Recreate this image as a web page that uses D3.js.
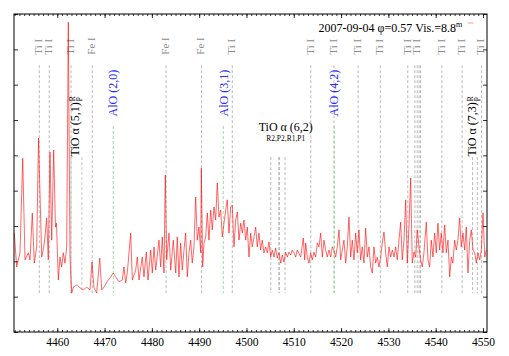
<!DOCTYPE html>
<html>
<head>
<meta charset="utf-8">
<script src="https://cdn.jsdelivr.net/npm/d3@7"></script>
<style>
  body { margin: 0; background: #fff; }
  svg { display: block; font-family: "Liberation Serif", "Times New Roman", serif; }
</style>
</head>
<body>
<svg id="chart" width="509" height="356"></svg>
<script>
// Spectrum (wavelength in Angstrom, relative flux)
const wave = [
  4450.91, 4451.42, 4452.12, 4452.69, 4453.18, 4453.87, 4454.23, 4454.72, 4455.14, 4455.65,
  4456.03, 4456.71, 4457.04, 4457.40, 4457.76, 4458.10, 4458.46, 4458.82, 4459.24, 4459.62,
  4459.83, 4460.22, 4460.57, 4460.93, 4461.27, 4461.63, 4461.99, 4462.33, 4462.69, 4463.05,
  4463.39, 4464.10, 4464.80, 4465.50, 4466.22, 4466.92, 4467.34, 4467.76, 4468.33, 4468.97,
  4469.39, 4469.88, 4470.51, 4471.29, 4471.84, 4472.35, 4473.05, 4473.74, 4474.10, 4474.46,
  4474.80, 4475.52, 4475.86, 4476.58, 4476.92, 4477.28, 4477.97, 4478.33, 4478.82, 4479.18,
  4479.75, 4480.09, 4480.45, 4480.81, 4481.50, 4481.86, 4482.20, 4482.56, 4482.84, 4483.13,
  4483.62, 4483.98, 4484.53, 4485.04, 4485.37, 4485.73, 4486.09, 4486.43, 4486.79, 4487.15,
  4487.49, 4487.85, 4488.20, 4488.54, 4488.90, 4489.26, 4489.60, 4489.96, 4490.32, 4490.45,
  4490.74, 4491.02, 4491.38, 4491.72, 4492.07, 4492.43, 4492.77, 4493.13, 4493.49, 4493.83,
  4494.19, 4494.55, 4494.89, 4495.24, 4495.60, 4495.94, 4496.30, 4496.66, 4497.00, 4497.36,
  4497.72, 4498.06, 4498.42, 4498.78, 4499.12, 4499.47, 4499.83, 4500.17, 4500.53, 4500.89,
  4501.23, 4501.59, 4501.95, 4502.29, 4502.64, 4503.00, 4503.34, 4503.70, 4504.06, 4504.40,
  4504.76, 4505.12, 4505.46, 4505.82, 4506.17, 4506.51, 4506.87, 4507.23, 4507.57, 4507.93,
  4508.29, 4508.63, 4508.99, 4509.35, 4509.69, 4510.04, 4510.40, 4510.74, 4511.46, 4512.01,
  4512.31, 4512.52, 4512.86, 4513.21, 4513.57, 4513.91, 4514.27, 4514.63, 4514.97, 4515.33,
  4515.69, 4516.03, 4516.38, 4516.74, 4517.08, 4517.44, 4517.80, 4518.14, 4518.50, 4518.86,
  4519.20, 4519.56, 4519.92, 4520.26, 4520.61, 4520.97, 4521.31, 4521.67, 4522.03, 4522.37,
  4522.73, 4523.09, 4523.43, 4523.78, 4524.14, 4524.48, 4524.84, 4525.20, 4525.54, 4525.90,
  4526.26, 4526.60, 4526.95, 4527.31, 4527.65, 4528.01, 4528.37, 4528.71, 4529.07, 4529.43,
  4529.77, 4530.13, 4530.49, 4530.83, 4531.18, 4531.54, 4531.88, 4532.24, 4532.60, 4532.94,
  4533.30, 4533.66, 4534.00, 4534.35, 4534.71, 4535.05, 4535.41, 4535.77, 4536.11, 4536.47,
  4536.83, 4537.17, 4537.52, 4538.01, 4538.37, 4538.73, 4539.07, 4539.43, 4539.79, 4540.13,
  4540.48, 4540.84, 4541.18, 4541.54, 4541.90, 4542.24, 4542.60, 4542.96, 4543.30, 4543.65,
  4544.01, 4544.35, 4544.71, 4545.07, 4545.41, 4545.77, 4546.13, 4546.47, 4546.83, 4547.19,
  4547.53, 4547.89, 4548.25, 4548.59, 4548.95, 4549.31, 4549.65, 4550.01, 4550.37, 4550.69
];
const flux = [
  2.80, 1.84, 2.24, 4.92, 2.04, 2.24, 2.04, 3.37, 1.95, 2.41,
  5.49, 2.12, 2.32, 2.69, 3.23, 2.04, 5.09, 2.60, 5.15, 2.97,
  3.08, 1.47, 2.12, 1.84, 2.24, 1.95, 2.41, 8.77, 2.12, 1.10,
  1.27, 1.33, 1.25, 1.19, 1.27, 1.19, 1.98, 1.25, 1.10, 2.09,
  1.19, 1.27, 1.42, 1.56, 1.67, 1.56, 1.42, 1.47, 1.84, 1.39,
  1.67, 2.80, 1.47, 1.75, 2.12, 1.47, 2.12, 1.56, 2.26, 1.47,
  2.32, 1.67, 2.41, 1.75, 2.60, 1.84, 2.69, 1.67, 4.44, 2.04,
  2.80, 1.75, 2.60, 1.67, 2.69, 1.56, 2.52, 1.75, 2.32, 2.80,
  1.56, 2.24, 2.60, 1.95, 2.41, 3.82, 2.60, 2.97, 2.24, 4.64,
  1.84, 2.52, 2.69, 3.37, 2.60, 3.45, 2.89, 3.54, 3.17, 4.22,
  3.25, 3.45, 2.69, 3.08, 3.45, 3.74, 2.80, 3.54, 3.59, 2.41,
  3.17, 3.40, 2.60, 3.08, 2.80, 3.17, 2.60, 2.97, 2.12, 2.80,
  2.41, 2.69, 2.97, 2.41, 2.80, 2.32, 2.60, 2.24, 2.41, 2.24,
  2.55, 2.12, 2.32, 2.12, 2.38, 2.09, 2.24, 1.95, 2.18, 1.98,
  2.26, 2.12, 2.26, 2.18, 2.32, 2.24, 2.12, 2.32, 2.12, 2.66,
  2.04, 2.52, 2.12, 1.95, 2.24, 2.04, 2.26, 2.12, 2.52, 2.41,
  2.80, 2.12, 2.60, 2.32, 2.12, 2.32, 2.12, 2.41, 2.32, 2.12,
  2.41, 2.89, 2.04, 2.32, 2.60, 1.95, 2.41, 3.25, 2.12, 2.60,
  2.04, 2.80, 2.24, 2.89, 2.04, 2.41, 1.95, 2.94, 2.12, 2.41,
  1.84, 1.67, 2.41, 1.95, 2.12, 1.84, 2.12, 2.52, 2.83, 2.24,
  1.84, 2.41, 2.12, 2.32, 2.12, 2.41, 2.04, 2.60, 3.11, 2.04,
  2.60, 3.74, 1.95, 2.97, 4.36, 1.95, 2.26, 2.12, 2.89, 2.41,
  2.04, 1.84, 2.24, 3.11, 2.04, 1.84, 2.60, 2.12, 2.80, 2.24,
  3.08, 2.32, 2.80, 2.24, 3.03, 2.24, 2.60, 1.56, 2.12, 1.95,
  2.60, 2.32, 2.60, 3.23, 2.41, 2.80, 2.32, 2.97, 1.67, 2.60,
  2.89, 2.32, 2.24, 1.95, 2.24, 2.04, 2.32, 3.37, 2.12, 2.32
];

// Line identifications
const tiLines = [4456.2, 4458.3, 4462.9, 4497.0, 4513.6, 4518.5, 4523.6, 4528.3, 4534.1, 4536.1, 4541.3, 4545.6, 4549.7];
const feLines = [4467.4, 4483.0, 4490.5];
const otherLines = [4535.6, 4536.5, 4536.8];
const aloWave = [4471.84, 4495.1, 4518.56];
const aloBand = ["AlO (2,0)", "AlO (3,1)", "AlO (4,2)"];
const tio51 = [4462.9, 4465.2];
const tio62 = [4505.15, 4506.85, 4506.95, 4508.15];
const tio73 = [4547.8, 4548.8];

const xTicks = [4460, 4470, 4480, 4490, 4500, 4510, 4520, 4530, 4540, 4550];
const legendText = "2007-09-04 \u03c6=0.57 Vis.=8.8";

const svg = d3.select("#chart");
const margin = { top: 14, right: 22, bottom: 24, left: 14 };
const W = 509, H = 356;
const innerW = W - margin.left - margin.right;
const innerH = H - margin.top - margin.bottom;
const g = svg.append("g").attr("transform", `translate(${margin.left},${margin.top})`);

const x = d3.scaleLinear().domain([4450.85, 4550.85]).range([0, innerW]);
const y = d3.scaleLinear().domain([0, 9]).range([innerH, 0]);

// dashed identification lines
function idLines(list, top, color) {
  g.selectAll(null)
    .data(list)
    .join("line")
      .attr("x1", d => x(d)).attr("x2", d => x(d))
      .attr("y1", y(top)).attr("y2", y(1.1))
      .attr("stroke", color)
      .attr("stroke-width", 0.8)
      .attr("stroke-dasharray", "3,2");
}
idLines(tiLines.concat(feLines, otherLines), 7.55, "#aaa");
idLines(tio51, 4.95, "#bbb");
idLines(tio62, 4.95, "#aaa");
idLines(tio73, 4.95, "#aaa");
idLines(aloWave, 5.83, "#7fdc7f");

// rotated gray labels on top
function topLabel(list, name) {
  g.selectAll(null)
    .data(list)
    .join("text")
      .attr("transform", d => `translate(${x(d) - 1},${y(7.85)}) rotate(-90)`)
      .attr("dy", "0.35em")
      .attr("fill", "#8c8c8c")
      .style("font-size", "11px")
      .text(name);
}
topLabel(tiLines, "Ti I");
topLabel(feLines, "Fe I");

// AlO labels
g.selectAll(null)
  .data(aloWave)
  .join("text")
    .attr("transform", d => `translate(${x(d)},${y(6.1)}) rotate(-90)`)
    .attr("dy", "0.35em")
    .attr("fill", "#2a2aff")
    .style("font-size", "12px")
    .text((d, i) => aloBand[i]);

// TiO band heads with R/P
function tioRotated(w, band) {
  const t = g.append("text")
    .attr("transform", `translate(${x(w)},${y(4.97)}) rotate(-90)`)
    .attr("dy", "0.35em")
    .attr("fill", "#000")
    .style("font-size", "12px");
  t.append("tspan").text("TiO \u03b1 " + band);
  t.append("tspan").attr("dx", 1).attr("dy", "-0.45em").style("font-size", "7.5px").text("R");
  t.append("tspan").attr("dx", -5).attr("dy", "0.95em").style("font-size", "7.5px").text("P");
}
tioRotated(4463.6, "(5,1)");
tioRotated(4547.65, "(7,3)");

g.append("text")
  .attr("x", x(4508.3)).attr("y", y(5.7))
  .attr("text-anchor", "middle")
  .style("font-size", "12px")
  .text("TiO \u03b1 (6,2)");
g.append("text")
  .attr("x", x(4508.3)).attr("y", y(5.4))
  .attr("text-anchor", "middle")
  .style("font-size", "7.5px")
  .text("R2,P2,R1,P1");

// spectrum
const line = d3.line()
  .x((d, i) => x(wave[i]))
  .y(d => y(d));
g.append("path")
  .datum(flux)
  .attr("fill", "none")
  .attr("stroke", "#ff0000")
  .attr("stroke-opacity", 0.85)
  .attr("stroke-width", 0.7)
  .attr("d", line);

// axes: inward ticks, minor every 1 A
const minor = d3.range(4451, 4551, 1);
g.append("g")
  .attr("transform", `translate(0,${innerH})`)
  .call(d3.axisBottom(x).tickValues(minor).tickSize(-2).tickFormat(""));
g.append("g")
  .call(d3.axisTop(x).tickValues(minor).tickSize(-2).tickFormat(""));
g.append("g")
  .attr("transform", `translate(0,${innerH})`)
  .call(d3.axisBottom(x).tickValues(xTicks).tickSize(-4).tickPadding(6).tickFormat(d3.format("d")));
g.append("g")
  .call(d3.axisTop(x).tickValues(xTicks).tickSize(-4).tickFormat(""));
g.append("g")
  .call(d3.axisLeft(y).ticks(9).tickSize(-4).tickFormat(""));
g.append("g")
  .attr("transform", `translate(${innerW},0)`)
  .call(d3.axisRight(y).ticks(9).tickSize(-4).tickFormat(""));

g.selectAll(".domain").remove();
g.selectAll(".tick text")
  .style("font-family", "'Liberation Serif', serif")
  .style("font-size", "11.5px")
  .attr("fill", "#000");
g.selectAll(".tick line").attr("stroke", "#000").attr("stroke-width", 0.8);

g.append("rect")
  .attr("width", innerW).attr("height", innerH)
  .attr("fill", "none").attr("stroke", "#000").attr("stroke-width", 1);

// legend
const leg = g.append("text")
  .attr("x", x(4545.6)).attr("y", 18)
  .attr("text-anchor", "end")
  .style("font-size", "12px");
leg.append("tspan").text(legendText);
leg.append("tspan").attr("dy", -5).style("font-size", "8px").text("m");
g.append("line")
  .attr("x1", x(4546.8)).attr("x2", x(4548.0))
  .attr("y1", 9).attr("y2", 9)
  .attr("stroke", "#ff9a9a").attr("stroke-width", 1);
</script>
</body>
</html>
